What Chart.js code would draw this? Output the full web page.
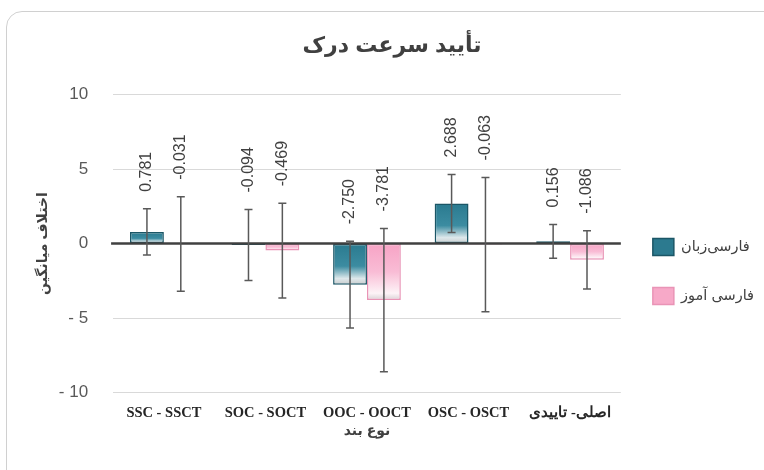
<!DOCTYPE html>
<html>
<head>
<meta charset="utf-8">
<script src="https://cdn.jsdelivr.net/npm/chart.js@4.4.0/dist/chart.umd.min.js"></script>
<style>
  html, body { margin: 0; padding: 0; background: #fff; }
  #wrap { position: relative; width: 764px; height: 470px; overflow: hidden; }
  #frame { position: absolute; left: 6px; top: 11px; width: 800px; height: 500px;
           border: 1.5px solid #d0d0d0; border-radius: 16px; pointer-events: none; }
  canvas { position: absolute; left: 0; top: 0; }
</style>
</head>
<body>
<div id="wrap">
  <canvas id="chart" width="764" height="470"></canvas>
  <div id="frame"></div>
</div>
<script>
// data
const categories = ['SSC - SSCT', 'SOC - SOCT', 'OOC - OOCT', 'OSC - OSCT', 'اصلی- تاییدی'];
const seriesNames = ['فارسی‌زبان', 'فارسی آموز'];
const nativeMeans = [0.781, -0.094, -2.750, 2.688, 0.156];
const learnerMeans = [-0.031, -0.469, -3.781, -0.063, -1.086];
const nativeErrors = [1.55, 2.38, 2.9, 1.95, 1.13];
const learnerErrors = [3.17, 3.17, 4.8, 4.5, 1.95];

const ARIAL = '"Liberation Sans", Arial, "DejaVu Sans", sans-serif';
const solidColors = ['#2c7a8f', '#f7a9c8'];

// vertical gradient per bar, dark at top fading to white at the bottom
function barFill(stops, solid) {
  return (context) => {
    const chart = context.chart;
    if (context.type !== 'data' || !chart.chartArea) return solid;
    const y = chart.scales.y;
    const v = context.raw;
    const top = y.getPixelForValue(Math.max(v, 0));
    const bottom = y.getPixelForValue(Math.min(v, 0));
    if (bottom - top < 2) return solid;
    const g = chart.ctx.createLinearGradient(0, top, 0, bottom);
    stops.forEach(s => g.addColorStop(s[0], s[1]));
    return g;
  };
}

// zero line, error bars and rotated value labels
const extras = {
  id: 'extras',
  afterDatasetsDraw(chart) {
    const ctx = chart.ctx;
    const y = chart.scales.y;
    const area = chart.chartArea;
    const errs = [nativeErrors, learnerErrors];

    ctx.save();
    ctx.strokeStyle = '#404040';
    ctx.lineWidth = 2.5;
    ctx.beginPath();
    ctx.moveTo(area.left - 2, y.getPixelForValue(0));
    ctx.lineTo(area.right, y.getPixelForValue(0));
    ctx.stroke();
    ctx.restore();

    chart.data.datasets.forEach((ds, di) => {
      const meta = chart.getDatasetMeta(di);
      meta.data.forEach((bar, i) => {
        const v = ds.data[i];
        const hi = y.getPixelForValue(v + errs[di][i]);
        const lo = y.getPixelForValue(v - errs[di][i]);
        ctx.save();
        ctx.strokeStyle = '#595959';
        ctx.lineWidth = 1.5;
        ctx.beginPath();
        ctx.moveTo(bar.x, hi); ctx.lineTo(bar.x, lo);
        ctx.moveTo(bar.x - 4, hi); ctx.lineTo(bar.x + 4, hi);
        ctx.moveTo(bar.x - 4, lo); ctx.lineTo(bar.x + 4, lo);
        ctx.stroke();

        ctx.translate(bar.x, hi - 17);
        ctx.rotate(-Math.PI / 2);
        ctx.fillStyle = '#404040';
        ctx.font = '16px ' + ARIAL;
        ctx.textAlign = 'left';
        ctx.textBaseline = 'middle';
        ctx.fillText(v.toFixed(3), 0, 0);
        ctx.restore();
      });
    });
  }
};

const ctx = document.getElementById('chart').getContext('2d');

const chart = new Chart(ctx, {
  type: 'bar',
  data: {
    labels: categories,
    datasets: [{
      label: seriesNames[0],
      data: nativeMeans,
      backgroundColor: barFill([[0, '#2a7a8f'], [0.55, '#3c8ca1'], [0.85, '#dde8eb'], [1, '#c9cccd']], solidColors[0]),
      borderColor: '#1b5666',
      borderWidth: 1.5,
      borderSkipped: false,
      barPercentage: 1,
      categoryPercentage: 0.667
    }, {
      label: seriesNames[1],
      data: learnerMeans,
      backgroundColor: barFill([[0, '#f7a3c5'], [0.5, '#f9bcd5'], [0.88, '#fdf3f7'], [1, '#d9d2d5']], solidColors[1]),
      borderColor: '#e994b6',
      borderWidth: 1.5,
      borderSkipped: false,
      barPercentage: 1,
      categoryPercentage: 0.667
    }]
  },
  options: {
    responsive: false,
    devicePixelRatio: 1,
    animation: false,
    layout: {
      padding: { left: 20, right: 0, top: 0, bottom: 30 }
    },
    plugins: {
      title: {
        display: true,
        text: 'تأیید سرعت درک',
        color: '#404040',
        font: { family: ARIAL, size: 22, weight: 'bold' },
        padding: { top: 33, bottom: 35 }
      },
      legend: {
        position: 'right',
        title: {
          display: true,
          text: ' ',
          font: { size: 10 },
          padding: { top: 91, bottom: 0 }
        },
        labels: {
          boxWidth: 21,
          boxHeight: 17,
          padding: 32,
          color: '#404040',
          font: { family: ARIAL, size: 14.5 },
          generateLabels: (chart) => {
            const items = Chart.defaults.plugins.legend.labels.generateLabels(chart);
            items.forEach((item, i) => { item.fillStyle = solidColors[i]; });
            return items;
          }
        }
      },
      tooltip: { enabled: false }
    },
    scales: {
      x: {
        grid: { display: false },
        border: { display: false },
        ticks: {
          color: '#262626',
          padding: 4,
          font: { family: '"Liberation Serif", "Times New Roman", serif', size: 14.5, weight: 'bold' }
        },
        title: {
          display: true,
          text: 'نوع بند',
          color: '#404040',
          font: { family: ARIAL, size: 14, weight: 'bold' },
          padding: { top: -3, bottom: 0 }
        }
      },
      y: {
        min: -10,
        max: 10,
        grid: { color: '#d9d9d9', lineWidth: 1, drawTicks: false },
        border: { display: false },
        ticks: {
          stepSize: 5,
          padding: 25,
          color: '#595959',
          font: { family: ARIAL, size: 17 },
          callback: (v) => v < 0 ? '- ' + Math.abs(v) : String(v)
        },
        title: {
          display: true,
          text: 'اختلاف میانگین',
          color: '#404040',
          font: { family: ARIAL, size: 14, weight: 'bold' },
          padding: { top: 15, bottom: -18 }
        }
      }
    }
  },
  plugins: [extras]
});
</script>
</body>
</html>
